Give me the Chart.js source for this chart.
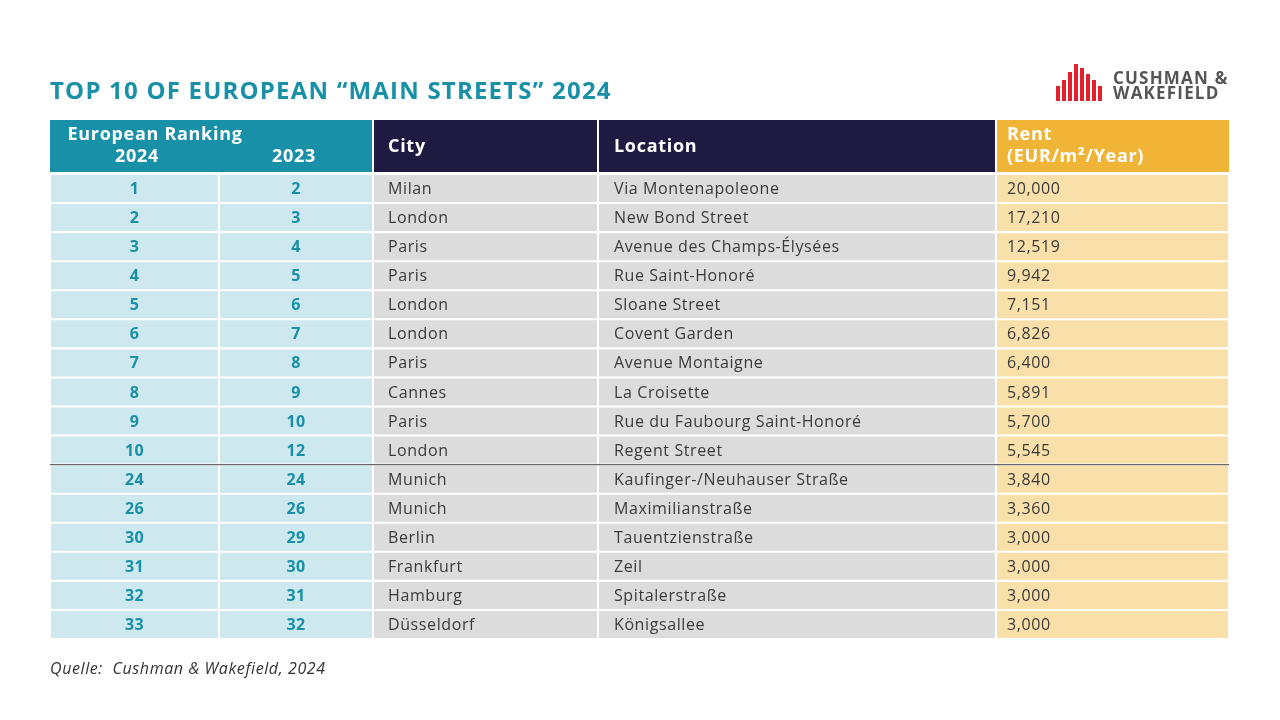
<!DOCTYPE html>
<html>
<head>
<meta charset="utf-8">
<script src="https://cdn.jsdelivr.net/npm/chart.js@4.4.1/dist/chart.umd.min.js"></script>
<style>
  html, body { margin: 0; padding: 0; background: #fff; }
  #wrap { width: 1280px; height: 720px; }
</style>
</head>
<body>
<div id="wrap"><canvas id="table"></canvas></div>
<script>
  // table content
  const rank2024 = ['1', '2', '3', '4', '5', '6', '7', '8', '9', '10', '24', '26', '30', '31', '32', '33'];
  const rank2023 = ['2', '3', '4', '5', '6', '7', '8', '9', '10', '12', '24', '26', '29', '30', '31', '32'];
  const cities = ['Milan', 'London', 'Paris', 'Paris', 'London', 'London', 'Paris', 'Cannes', 'Paris', 'London',
    'Munich', 'Munich', 'Berlin', 'Frankfurt', 'Hamburg', 'Düsseldorf'];
  const locations = ['Via Montenapoleone', 'New Bond Street', 'Avenue des Champs-Élysées', 'Rue Saint-Honoré',
    'Sloane Street', 'Covent Garden', 'Avenue Montaigne', 'La Croisette', 'Rue du Faubourg Saint-Honoré',
    'Regent Street', 'Kaufinger-/Neuhauser Straße', 'Maximilianstraße', 'Tauentzienstraße', 'Zeil',
    'Spitalerstraße', 'Königsallee'];
  const rents = ['20,000', '17,210', '12,519', '9,942', '7,151', '6,826', '6,400', '5,891', '5,700', '5,545',
    '3,840', '3,360', '3,000', '3,000', '3,000', '3,000'];

  // layout: column edges in x-scale units (1 unit = 1px)
  const colEdges = [0, 169, 323, 548, 946, 1179];
  const colFills = ['#cde8ef', '#cde8ef', '#dcdcdc', '#dcdcdc', '#f9e0aa'];
  const teal = '#1790a8';
  const rowLabels = rank2024.map((r, i) => 'r' + i);

  const datasets = colFills.map((fill, c) => ({
    data: rowLabels.map(() => [colEdges[c] + 1, colEdges[c + 1] - 1]),
    backgroundColor: fill,
    borderWidth: 0,
    barPercentage: 1,
    categoryPercentage: 0.93
  }));

  function font(ctx, spec, spacing) {
    ctx.font = spec + ' "Open Sans", sans-serif';
    ctx.letterSpacing = spacing + 'px';
  }

  const tablePlugin = {
    id: 'tableText',
    afterDatasetsDraw(chart) {
      const ctx = chart.ctx;
      const xs = chart.scales.x;
      const ys = chart.scales.y;
      const px = (v) => xs.getPixelForValue(v);
      const top = chart.chartArea.top;
      ctx.save();

      // title
      ctx.fillStyle = teal;
      font(ctx, 'bold 24px', 1.2);
      ctx.textBaseline = 'middle';
      ctx.textAlign = 'left';
      ctx.fillText('TOP 10 OF EUROPEAN “MAIN STREETS” 2024', 50, 92);

      // logo
      ctx.fillStyle = '#e4202c';
      const bars = [[1056, 86], [1062, 80], [1068, 72], [1074, 64], [1080, 68], [1086, 74], [1092, 80], [1098, 86]];
      bars.forEach(([bx, by]) => ctx.fillRect(bx, by, 4, 101 - by));
      ctx.fillStyle = '#555';
      font(ctx, 'bold 17px', 1.2);
      ctx.fillText('CUSHMAN &', 1113, 79);
      ctx.fillText('WAKEFIELD', 1113, 94);

      // header
      const hTop = top - 54, hBot = top - 2;
      ctx.fillStyle = teal;
      ctx.fillRect(px(0), hTop, px(colEdges[2] - 1) - px(0), hBot - hTop);
      ctx.fillStyle = '#1e1a42';
      ctx.fillRect(px(colEdges[2] + 1), hTop, px(colEdges[3] - 1) - px(colEdges[2] + 1), hBot - hTop);
      ctx.fillRect(px(colEdges[3] + 1), hTop, px(colEdges[4] - 1) - px(colEdges[3] + 1), hBot - hTop);
      ctx.fillStyle = '#f0b437';
      ctx.fillRect(px(colEdges[4] + 1), hTop, px(colEdges[5]) - px(colEdges[4] + 1), hBot - hTop);

      ctx.fillStyle = '#fff';
      font(ctx, 'bold 18px', 0.7);
      ctx.textAlign = 'center';
      ctx.fillText('European Ranking', 155, hTop + 15);
      ctx.fillText('2024', 137, hTop + 37);
      ctx.fillText('2023', 294, hTop + 37);
      ctx.textAlign = 'left';
      ctx.fillText('City', px(colEdges[2]) + 15, hTop + 27);
      ctx.fillText('Location', px(colEdges[3]) + 16, hTop + 27);
      ctx.fillText('Rent', px(colEdges[4]) + 11, hTop + 15);
      ctx.fillText('(EUR/m²/Year)', px(colEdges[4]) + 11, hTop + 37);

      // rows
      rowLabels.forEach((lab, i) => {
        const y = ys.getPixelForValue(i) + 1;
        font(ctx, 'bold 16px', 0.4);
        ctx.fillStyle = teal;
        ctx.textAlign = 'center';
        ctx.fillText(rank2024[i], (px(colEdges[0]) + px(colEdges[1])) / 2, y);
        ctx.fillText(rank2023[i], (px(colEdges[1]) + px(colEdges[2])) / 2, y);
        font(ctx, '16px', 0.6);
        ctx.fillStyle = '#3a3a3a';
        ctx.textAlign = 'left';
        ctx.fillText(cities[i], px(colEdges[2]) + 15, y);
        ctx.fillText(locations[i], px(colEdges[3]) + 16, y);
        ctx.fillText(rents[i], px(colEdges[4]) + 11, y);
      });

      // divider after top 10
      const yd = (ys.getPixelForValue(9) + ys.getPixelForValue(10)) / 2;
      ctx.strokeStyle = '#666';
      ctx.lineWidth = 1.2;
      ctx.beginPath();
      ctx.moveTo(px(0), yd);
      ctx.lineTo(px(colEdges[5]), yd);
      ctx.stroke();

      // source
      ctx.fillStyle = '#333';
      font(ctx, 'italic 16px', 0.6);
      ctx.fillText('Quelle:  Cushman & Wakefield, 2024', 50, 669);
      ctx.restore();
    }
  };

  new Chart(document.getElementById('table'), {
    type: 'bar',
    data: { labels: rowLabels, datasets },
    options: {
      indexAxis: 'y',
      responsive: true,
      maintainAspectRatio: false,
      animation: false,
      layout: { padding: { left: 50, right: 51, top: 174, bottom: 81 } },
      scales: {
        x: { type: 'linear', min: 0, max: 1179, display: false },
        y: { type: 'category', display: false, stacked: true }
      },
      plugins: { legend: { display: false }, tooltip: { enabled: false } }
    },
    plugins: [tablePlugin]
  });
</script>
</body>
</html>
